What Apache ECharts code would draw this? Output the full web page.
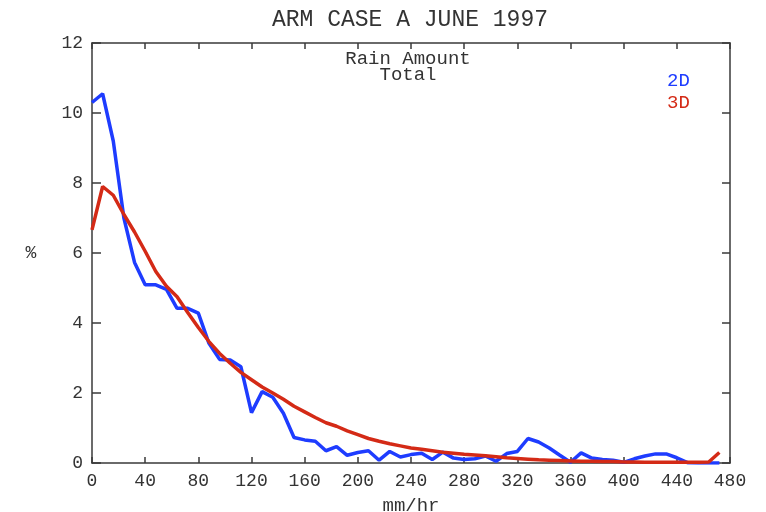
<!DOCTYPE html>
<html>
<head>
<meta charset="utf-8">
<script src="https://cdn.jsdelivr.net/npm/echarts@6/dist/echarts.min.js"></script>
<style>
html,body{margin:0;padding:0;background:#fff;}
#chart{width:766px;height:512px;}
</style>
</head>
<body>
<div id="chart"></div>
<script>
// rain rate bins (mm/hr)
const rainRate = [0, 8, 16, 24, 32, 40, 48, 56, 64, 72, 80, 88, 96, 104, 112, 120, 128, 136, 144, 152,
  160, 168, 176, 184, 192, 200, 208, 216, 224, 232, 240, 248, 256, 264, 272, 280, 288, 296, 304, 312,
  320, 328, 336, 344, 352, 360, 368, 376, 384, 392, 400, 408, 416, 424, 432, 440, 448, 456, 464, 472];
// percent, 2D run
const pct2D = [10.3, 10.55, 9.2, 7.0, 5.73, 5.09, 5.09, 4.96, 4.42, 4.42, 4.28, 3.42, 2.96, 2.94, 2.75, 1.44, 2.04, 1.88, 1.42, 0.73,
  0.66, 0.62, 0.35, 0.47, 0.22, 0.3, 0.35, 0.08, 0.33, 0.17, 0.24, 0.28, 0.1, 0.31, 0.14, 0.1, 0.12, 0.2, 0.05, 0.27,
  0.33, 0.7, 0.6, 0.43, 0.22, 0.02, 0.29, 0.14, 0.1, 0.08, 0.02, 0.12, 0.2, 0.26, 0.26, 0.15, 0.01, 0, 0, 0];
// percent, 3D run
const pct3D = [6.66, 7.9, 7.65, 7.1, 6.6, 6.05, 5.47, 5.05, 4.75, 4.3, 3.87, 3.47, 3.13, 2.85, 2.59, 2.38, 2.17, 2.0, 1.82, 1.62,
  1.46, 1.3, 1.15, 1.05, 0.92, 0.81, 0.7, 0.62, 0.55, 0.49, 0.43, 0.39, 0.35, 0.31, 0.28, 0.25, 0.23, 0.21, 0.18, 0.15,
  0.13, 0.11, 0.09, 0.08, 0.07, 0.06, 0.05, 0.05, 0.04, 0.04, 0.03, 0.03, 0.02, 0.02, 0.02, 0.02, 0.02, 0.02, 0.03, 0.3];

const xTicks = {min: 0, max: 480, interval: 40};
const yTicks = {min: 0, max: 12, interval: 2};
const seriesNames = ['2D', '3D'];
const colors = ['#1e3cff', '#d42a16'];

const FONT = '"Liberation Mono", "DejaVu Sans Mono", monospace';
const axisCol = '#3a3a3a';

const chart = echarts.init(document.getElementById('chart'), null, {renderer: 'canvas'});

function pairs(xs, ys) { return xs.map((x, i) => [x, ys[i]]); }

const option = {
  backgroundColor: '#ffffff',
  animation: false,
  title: [
    {text: 'ARM CASE A JUNE 1997', left: 410, top: 8, textAlign: 'center', padding: 0,
     textStyle: {fontFamily: FONT, fontSize: 23, fontWeight: 'normal', color: '#333'}},
    {text: 'Rain Amount\nTotal', left: 408, top: 51, textAlign: 'center', padding: 0,
     textStyle: {fontFamily: FONT, fontSize: 19, fontWeight: 'normal', color: '#333', lineHeight: 16}}
  ],
  legend: {
    orient: 'vertical', left: 662, top: 71, padding: 0, icon: 'none', itemWidth: 0, itemHeight: 18, itemGap: 3,
    selectedMode: false,
    data: [
      {name: seriesNames[0], textStyle: {color: colors[0]}},
      {name: seriesNames[1], textStyle: {color: colors[1]}}
    ],
    textStyle: {fontFamily: FONT, fontSize: 19}
  },
  grid: {left: 92, right: 36, top: 43, bottom: 49, containLabel: false, outerBoundsMode: 'none'},
  xAxis: [
    {type: 'value', min: xTicks.min, max: xTicks.max, interval: xTicks.interval, position: 'bottom',
     name: 'mm/hr', nameLocation: 'middle', nameGap: 33,
     nameTextStyle: {fontFamily: FONT, fontSize: 19, color: '#333', verticalAlign: 'top'},
     axisLine: {show: true, onZero: false, lineStyle: {color: axisCol, width: 1.5}},
     axisTick: {show: true, inside: true, length: 6, lineStyle: {color: axisCol, width: 1.5}},
     axisLabel: {fontFamily: FONT, fontSize: 18, color: '#333', margin: 9},
     splitLine: {show: false}},
    {type: 'value', min: xTicks.min, max: xTicks.max, interval: xTicks.interval, position: 'top',
     axisLine: {show: true, onZero: false, lineStyle: {color: axisCol, width: 1.5}},
     axisTick: {show: true, inside: true, length: 6, lineStyle: {color: axisCol, width: 1.5}},
     axisLabel: {show: false}, splitLine: {show: false}}
  ],
  yAxis: [
    {type: 'value', min: yTicks.min, max: yTicks.max, interval: yTicks.interval, position: 'left',
     name: '%', nameLocation: 'middle', nameGap: 61, nameRotate: 0,
     nameTextStyle: {fontFamily: FONT, fontSize: 18, color: '#333', align: 'center', verticalAlign: 'middle'},
     axisLine: {show: true, onZero: false, lineStyle: {color: axisCol, width: 1.5}},
     axisTick: {show: true, inside: true, length: 9, lineStyle: {color: axisCol, width: 1.5}},
     axisLabel: {fontFamily: FONT, fontSize: 18, color: '#333', margin: 9},
     splitLine: {show: false}},
    {type: 'value', min: yTicks.min, max: yTicks.max, interval: yTicks.interval, position: 'right',
     axisLine: {show: true, onZero: false, lineStyle: {color: axisCol, width: 1.5}},
     axisTick: {show: true, inside: true, length: 8, lineStyle: {color: axisCol, width: 1.5}},
     axisLabel: {show: false}, splitLine: {show: false}}
  ],
  series: [
    {name: seriesNames[0], type: 'line', data: pairs(rainRate, pct2D), showSymbol: false, symbol: 'none',
     lineStyle: {color: colors[0], width: 3.5}, itemStyle: {color: colors[0]}, z: 2},
    {name: seriesNames[1], type: 'line', data: pairs(rainRate, pct3D), showSymbol: false, symbol: 'none',
     lineStyle: {color: colors[1], width: 3.5}, itemStyle: {color: colors[1]}, z: 3}
  ]
};
chart.setOption(option);
</script>
</body>
</html>
